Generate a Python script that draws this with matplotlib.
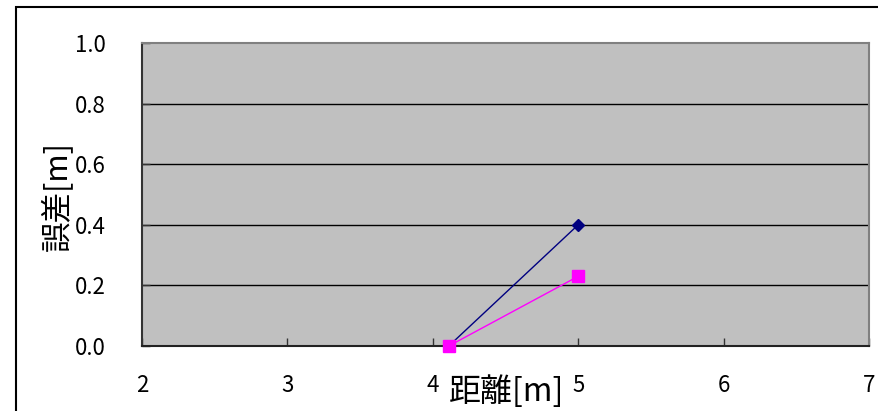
import matplotlib
matplotlib.use("Agg")
import matplotlib.pyplot as plt
from matplotlib.patches import Rectangle

plt.rcParams["font.family"] = ["Noto Sans CJK JP", "DejaVu Sans"]

# measured error vs. distance
distance = [4.11, 5.0]
error_a = [0.0, 0.4]
error_b = [0.0, 0.23]

x_ticks = [2, 3, 4, 5, 6, 7]
y_ticks = [0.0, 0.2, 0.4, 0.6, 0.8, 1.0]

fig = plt.figure(figsize=(8.79, 4.11), dpi=100)
ax = fig.add_axes([142 / 879, 1 - 346 / 411, (869 - 142) / 879, (346 - 43) / 411])

# chart frame (clipped by the figure edge on the right and bottom)
fig.patches.append(Rectangle((16 / 879, -0.1), 1.1, 1 - 7 / 411 + 0.1,
                             transform=fig.transFigure, fill=False,
                             edgecolor="black", linewidth=1.5))

ax.set_facecolor("#c0c0c0")
ax.set_xlim(2, 7)
ax.set_ylim(0, 1.0)
ax.set_xticks(x_ticks)
ax.set_yticks(y_ticks)
ax.set_xticklabels([str(t) for t in x_ticks])
ax.set_yticklabels([f"{t:.1f}" for t in y_ticks])
ax.tick_params(axis="both", direction="in", length=6, width=1, color="#333333",
               labelsize=16)
ax.tick_params(axis="x", pad=20)
ax.tick_params(axis="y", pad=26)

for y in y_ticks[1:-1]:
    ax.axhline(y, color="black", linewidth=1, zorder=1)

ax.spines["left"].set_color("#333333")
ax.spines["bottom"].set_color("#222222")
ax.spines["top"].set_color("#808080")
ax.spines["right"].set_color("#808080")
for s in ax.spines.values():
    s.set_linewidth(1.5)

ax.plot(distance, error_a, color="#000080", linewidth=1, marker="D",
        markersize=6, zorder=3, clip_on=False)
ax.plot(distance, error_b, color="#ff00ff", linewidth=1, marker="s",
        markersize=8, zorder=4, clip_on=False)

fig.text(507 / 879, 1 - 392 / 411, "距離[m]", fontsize=23, ha="center", va="center")
fig.text(58 / 879, 1 - 196 / 411, "誤差[m]", fontsize=22, ha="center", va="center",
         rotation=90)

fig.savefig("out.png", dpi=100)
